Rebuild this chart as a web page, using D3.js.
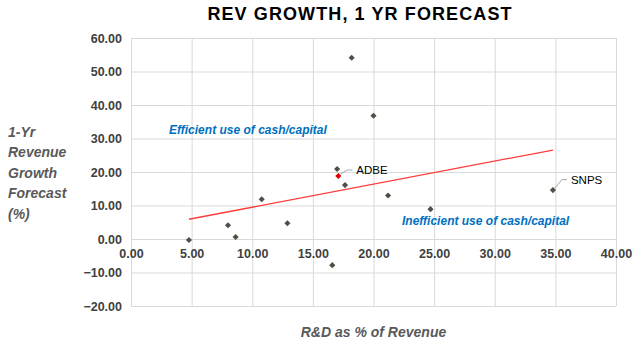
<!DOCTYPE html>
<html>
<head>
<meta charset="utf-8">
<script src="https://cdn.jsdelivr.net/npm/d3@7"></script>
<style>
  body { margin: 0; background: #fff; }
  svg { display: block; font-family: "Liberation Sans", Arial, sans-serif; }
</style>
</head>
<body>
<div id="container"></div>
<script>
// R&D vs 1-yr revenue growth scatter

const rdPct     = [4.78, 8.0, 8.63, 10.78, 12.9, 16.6, 17.0, 17.1, 17.65, 18.2, 20.0, 21.2, 24.7, 34.8]
const revGrowth = [-0.3, 4.1, 0.6, 11.85, 4.7, -7.8, 20.9, 18.8, 16.1, 54.1, 36.8, 13.0, 8.9, 14.6]
const tickers   = ["", "", "", "", "", "", "", "ADBE", "", "", "", "", "", "SNPS"]
const xTicks = [0, 5, 10, 15, 20, 25, 30, 35, 40]
const yTicks = [-20, -10, 0, 10, 20, 30, 40, 50, 60]
const yTitleLines = ["1-Yr", "Revenue", "Growth", "Forecast", "(%)"]

const width = 640,
    height = 346
let plot = { left: 131, right: 616, top: 38, bottom: 306 }

const svg = d3.select("#container")
    .append("svg")
    .attr("width", width)
    .attr("height", height)

const x = d3.scaleLinear().domain([0, 40]).range([plot.left, plot.right])
const y = d3.scaleLinear().domain([-20, 60]).range([plot.bottom, plot.top])

// gridlines
svg.append("g")
    .attr("transform", `translate(0,${plot.bottom})`)
    .call(d3.axisBottom(x).tickValues(xTicks).tickSize(-(plot.bottom - plot.top)).tickFormat(""))
    .call(g => g.select(".domain").remove())
    .call(g => g.selectAll("line").attr("stroke", "#d9d9d9"))

svg.append("g")
    .attr("transform", `translate(${plot.left},0)`)
    .call(d3.axisLeft(y).tickValues(yTicks).tickSize(-(plot.right - plot.left)).tickPadding(9).tickFormat(d3.format(".2f")))
    .call(g => g.select(".domain").remove())
    .call(g => g.selectAll("line").attr("stroke", "#d9d9d9"))
    .call(g => g.selectAll("text")
        .attr("font-size", "12.5px").attr("font-weight", "bold")
        .attr("fill", "#404040").attr("font-family", "Liberation Sans, Arial, sans-serif"))

// x labels sit on the zero line
svg.append("g")
    .attr("transform", `translate(0,${y(0)})`)
    .call(d3.axisBottom(x).tickValues(xTicks).tickSize(0).tickPadding(10).tickFormat(d3.format(".2f")))
    .call(g => g.select(".domain").remove())
    .call(g => g.selectAll("text")
        .attr("font-size", "12.5px").attr("font-weight", "bold")
        .attr("fill", "#404040").attr("font-family", "Liberation Sans, Arial, sans-serif"))

// title
svg.append("text")
    .attr("x", 360).attr("y", 20)
    .attr("text-anchor", "middle")
    .attr("font-size", "18px").attr("font-weight", "bold")
    .attr("letter-spacing", "1.1px")
    .attr("fill", "#000")
    .text("REV GROWTH, 1 YR FORECAST")

// axis titles
svg.append("g")
    .selectAll("text")
    .data(yTitleLines)
    .enter()
    .append("text")
    .attr("x", 8)
    .attr("y", (d, i) => 137 + i * 20.4)
    .attr("font-size", "14px").attr("font-weight", "bold").attr("font-style", "italic")
    .attr("fill", "#595959")
    .text(d => d)

svg.append("text")
    .attr("x", (plot.left + plot.right) / 2).attr("y", 337)
    .attr("text-anchor", "middle")
    .attr("font-size", "14px").attr("font-weight", "bold").attr("font-style", "italic")
    .attr("fill", "#595959")
    .text("R&D as % of Revenue")

// annotations
svg.append("text")
    .attr("x", 169).attr("y", 134)
    .attr("font-size", "12px").attr("font-weight", "bold").attr("font-style", "italic")
    .attr("fill", "#0070c0")
    .text("Efficient use of cash/capital")

svg.append("text")
    .attr("x", 402).attr("y", 225)
    .attr("font-size", "12px").attr("font-weight", "bold").attr("font-style", "italic")
    .attr("fill", "#0070c0")
    .text("Inefficient use of cash/capital")

// linear trendline (least squares over the points)
const mx = d3.mean(rdPct), my = d3.mean(revGrowth)
const slope = d3.sum(rdPct, (v, i) => (v - mx) * (revGrowth[i] - my)) / d3.sum(rdPct, v => (v - mx) ** 2)
const icpt = my - slope * mx
const [x0, x1] = d3.extent(rdPct)

svg.append("line")
    .attr("x1", x(x0)).attr("y1", y(icpt + slope * x0))
    .attr("x2", x(x1)).attr("y2", y(icpt + slope * x1))
    .attr("stroke", "#ff3b3b")
    .attr("stroke-width", 1.3)

// points
const points = rdPct.map((v, i) => ({ x: v, y: revGrowth[i], name: tickers[i] }))

svg.append("g")
    .selectAll("path")
    .data(points)
    .enter()
    .append("path")
    .attr("d", d3.symbol().type(d3.symbolDiamond2).size(24))
    .attr("transform", d => `translate(${x(d.x)},${y(d.y)})`)
    .attr("fill", d => d.name === "ADBE" ? "#e00000" : "#4f4f45")

// data labels were dragged by hand in the original, so each has its own lift
const labelLift = { ADBE: 6, SNPS: 10.5 }
const labelled = points.filter(d => d.name)
const lab = svg.append("g")
lab.selectAll("polyline")
    .data(labelled)
    .enter()
    .append("polyline")
    .attr("points", d => {
        const px = x(d.x), py = y(d.y), up = labelLift[d.name]
        return `${px + 2},${py - 2} ${px + 9},${py - up} ${px + 14},${py - up}`
    })
    .attr("fill", "none")
    .attr("stroke", "#a6a6a6")
    .attr("stroke-width", 1)
lab.selectAll("text")
    .data(labelled)
    .enter()
    .append("text")
    .attr("x", d => x(d.x) + 18)
    .attr("y", d => y(d.y) - labelLift[d.name] + 4)
    .attr("font-size", "11.5px")
    .attr("fill", "#000")
    .text(d => d.name)
</script>
</body>
</html>
